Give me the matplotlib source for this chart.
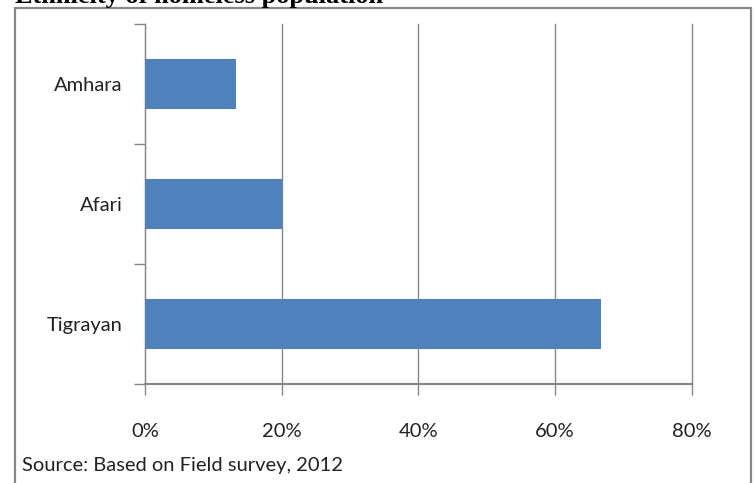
import matplotlib.pyplot as plt
import matplotlib.patches as patches
from matplotlib.ticker import PercentFormatter

# dados
categorias = ["Tigrayan", "Afari", "Amhara"]
percentuais = [66.7, 20.0, 13.3]
ticks_x = [0, 20, 40, 60, 80]

FONTE = ["Lato", "DejaVu Sans"]
COR_BARRA = "#4F81BD"
COR_GRADE = "#868686"
TAM = 14.5

W, H = 754, 483
fig = plt.figure(figsize=(W / 100, H / 100), dpi=100)

# ---- moldura externa ----
fig.patches.append(patches.Rectangle(
    (15 / W, -0.05), (751 - 15) / W, 1.05 - 8 / H,
    transform=fig.transFigure, fill=False,
    edgecolor="#888888", linewidth=1.6
))

# ---- titulo (cortado no topo, como no original) ----
fig.text(15 / W, 1 - 3 / H, "Ethnicity of homeless population",
         family="Liberation Serif", weight="bold", fontsize=19,
         ha="left", va="baseline")

ax = fig.add_axes([145 / W, (H - 384) / H, (691.7 - 145) / W, (384 - 24) / H])

pos = range(len(categorias))
ax.barh(pos, percentuais, height=0.41, color=COR_BARRA, zorder=3)

ax.set_xlim(0, 80)
ax.set_ylim(-0.5, len(categorias) - 0.5)
ax.set_xticks(ticks_x)
ax.xaxis.set_major_formatter(PercentFormatter(decimals=0))
ax.grid(axis="x", color=COR_GRADE, linewidth=1.0, zorder=0)
for linha in ax.get_xgridlines():
    linha.set_clip_on(False)

# ticks do eixo y ficam nas divisas entre categorias
ax.set_yticks([p - 0.5 for p in pos] + [len(categorias) - 0.5])
ax.set_yticklabels([])
ax.set_yticks(list(pos), minor=True)
ax.set_yticklabels(categorias, minor=True, family=FONTE, fontsize=TAM,
                   color="#222222")
ax.tick_params(axis="y", which="minor", length=0, pad=16)
ax.tick_params(axis="y", which="major", length=8, color=COR_GRADE, width=1)
ax.tick_params(axis="x", length=8, color=COR_GRADE, width=1, pad=20)
for lbl in ax.get_xticklabels():
    lbl.set_family(FONTE)
    lbl.set_fontsize(TAM)
    lbl.set_color("#222222")

for lado in ["top", "right"]:
    ax.spines[lado].set_visible(False)
ax.spines["left"].set_color(COR_GRADE)
ax.spines["bottom"].set_color(COR_GRADE)
ax.spines["bottom"].set_linewidth(1.5)

# ---- fonte dos dados ----
fig.text(22 / W, 1 - 466 / H, "Source: Based on Field survey, 2012",
         family=FONTE, fontsize=TAM, color="#222222", ha="left", va="center")

fig.savefig("out.png", dpi=100)
